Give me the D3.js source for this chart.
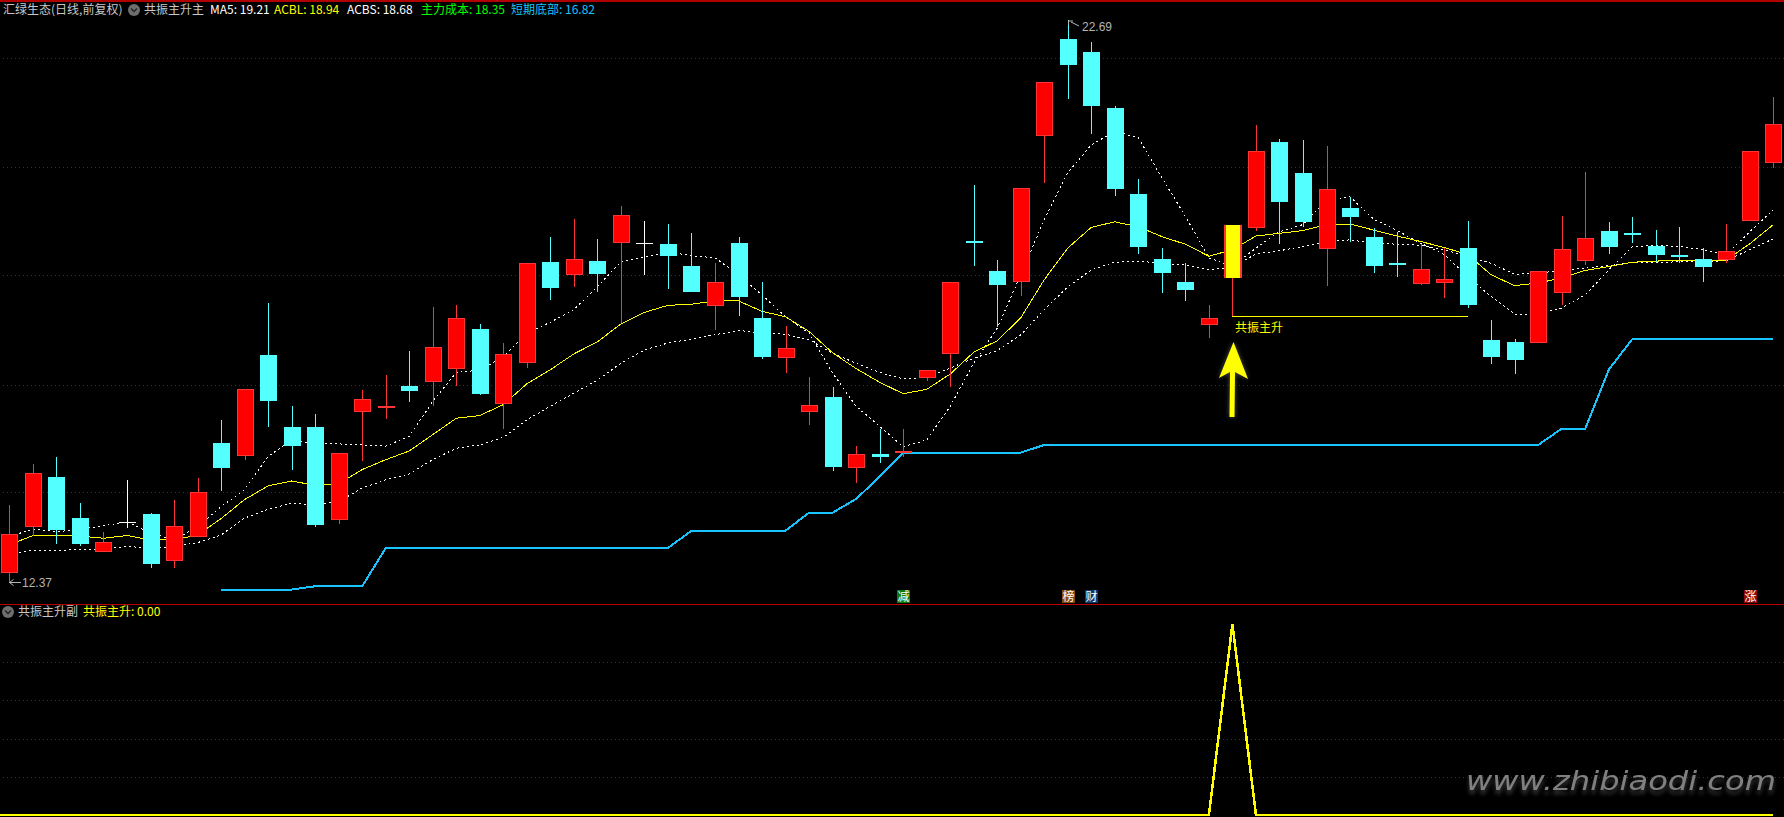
<!DOCTYPE html>
<html><head><meta charset="utf-8">
<script src="https://cdn.jsdelivr.net/npm/d3@7"></script>
<style>html,body{margin:0;padding:0;background:#000;overflow:hidden}svg{display:block}</style>
</head><body><svg id="c" width="1784" height="817"></svg>
<script>
const openP=[12.56,13.39,14.32,13.57,12.93,13.49,13.64,12.78,13.22,14.94,14.69,16.55,15.23,15.23,13.52,15.51,15.58,15.98,16.06,16.30,17.03,15.65,16.41,18.26,18.02,18.28,18.61,18.60,18.59,18.18,17.44,18.61,17.23,16.50,15.51,15.78,14.48,14.74,14.76,16.13,16.57,18.64,18.09,17.89,20.57,22.34,22.11,21.08,19.50,18.31,17.89,17.10,17.96,18.88,20.46,19.89,18.50,19.25,18.72,18.24,17.85,17.87,18.51,16.83,16.79,16.77,17.69,18.28,18.83,18.79,18.55,18.39,18.31,18.29,19.01,20.07];
const closeP=[13.27,14.38,13.35,13.09,13.12,13.49,12.72,13.41,14.04,14.48,15.93,15.71,14.88,13.44,14.75,15.75,15.62,15.89,16.70,17.23,15.84,16.57,18.23,17.77,18.31,18.04,19.11,18.60,18.37,17.71,17.89,17.62,16.52,16.68,15.64,14.50,14.74,14.68,14.79,16.28,17.89,18.60,17.84,19.61,21.56,21.87,21.12,19.60,18.53,18.06,17.74,17.23,18.94,20.29,19.36,18.99,19.60,19.08,18.18,18.20,18.13,17.95,17.47,16.52,16.46,18.09,18.50,18.70,18.53,18.77,18.39,18.35,18.17,18.46,20.29,20.79];
const highP=[13.80,14.55,14.68,13.84,13.31,14.26,13.66,13.90,14.30,15.36,15.93,17.51,15.62,15.47,14.75,15.91,16.19,16.63,17.43,17.47,17.12,16.77,18.23,18.72,19.05,18.68,19.28,19.01,18.95,18.79,18.23,18.72,17.89,17.08,16.15,15.97,14.88,15.20,15.20,16.28,17.89,19.67,18.29,19.61,21.56,22.69,22.29,21.12,19.78,18.51,18.24,17.47,18.94,20.77,20.51,20.49,20.38,19.45,18.88,18.81,18.59,18.51,19.01,17.19,16.85,18.09,19.10,19.91,18.99,19.08,18.84,18.90,18.51,18.95,20.29,21.28];
const lowP=[12.37,13.23,13.09,13.04,12.93,13.38,12.65,12.65,13.22,14.06,14.63,15.23,14.44,13.40,13.45,14.61,15.38,15.69,15.62,15.98,15.82,15.20,16.31,17.56,17.80,17.71,17.13,18.02,17.75,17.71,17.01,17.27,16.48,16.22,15.27,14.43,14.21,14.57,14.68,16.08,15.97,18.18,17.07,17.63,19.71,21.25,20.60,19.47,18.40,17.69,17.54,16.86,17.25,18.83,18.59,18.90,17.82,18.62,18.06,17.98,17.84,17.60,17.41,16.39,16.20,16.77,17.47,18.20,18.40,18.61,18.26,18.24,17.89,18.24,19.01,19.98];
const ma5=[13.22,13.36,13.31,13.35,13.42,13.49,13.29,13.16,13.40,13.77,14.08,14.69,14.99,14.92,14.92,14.90,14.88,15.06,15.70,16.23,16.27,16.52,16.95,17.15,17.38,17.80,18.26,18.35,18.44,18.37,18.33,18.02,17.65,17.25,16.95,16.22,15.61,15.24,14.87,14.99,15.61,16.40,17.04,18.02,19.03,19.89,20.40,20.65,20.53,19.80,19.09,18.33,18.17,18.51,18.81,18.94,19.39,19.45,19.04,18.83,18.60,18.39,17.99,17.62,17.30,17.30,17.41,17.65,18.11,18.53,18.56,18.54,18.48,18.39,18.81,19.21];
const acbl=[13.07,13.24,13.24,13.23,13.19,13.24,13.16,13.16,13.25,13.55,13.90,14.15,14.24,14.16,14.19,14.45,14.63,14.79,15.09,15.39,15.44,15.64,16.02,16.28,16.57,16.79,17.12,17.33,17.46,17.48,17.54,17.54,17.35,17.25,16.98,16.59,16.30,16.05,15.84,15.92,16.20,16.60,16.81,17.23,17.93,18.51,18.89,18.99,18.90,18.72,18.58,18.36,18.48,18.73,18.78,18.83,18.94,18.95,18.84,18.73,18.63,18.52,18.39,18.02,17.82,17.87,17.96,18.10,18.17,18.25,18.27,18.29,18.28,18.29,18.59,18.94];
const acbs=[12.89,12.97,12.97,12.98,12.99,13.04,13.01,13.04,13.11,13.25,13.56,13.72,13.83,13.80,13.86,14.11,14.26,14.37,14.63,14.84,14.90,15.04,15.36,15.61,15.85,16.09,16.40,16.64,16.77,16.84,16.92,17.00,16.95,16.93,16.83,16.58,16.40,16.23,16.11,16.14,16.31,16.49,16.63,16.92,17.38,17.80,18.11,18.25,18.27,18.23,18.20,18.11,18.16,18.40,18.46,18.54,18.63,18.66,18.60,18.58,18.56,18.48,18.35,18.23,18.03,18.05,18.10,18.14,18.19,18.24,18.24,18.26,18.25,18.28,18.48,18.68];
const bottomLine=[null,null,null,null,null,null,null,null,null,12.25,12.25,12.25,12.25,12.31,12.31,12.31,13.01,13.01,13.01,13.01,13.01,13.01,13.01,13.01,13.01,13.01,13.01,13.01,13.01,13.33,13.33,13.33,13.33,13.33,13.66,13.66,13.91,14.32,14.76,14.76,14.76,14.76,14.76,14.76,14.90,14.90,14.90,14.90,14.90,14.90,14.90,14.90,14.90,14.90,14.90,14.90,14.90,14.90,14.90,14.90,14.90,14.90,14.90,14.90,14.90,14.90,15.20,15.20,16.28,16.84,16.84,16.84,16.84,16.84,16.84,16.84];
const signalIndex=52, signalEndIndex=62, signalPrice=17.25, signalLabel="共振主升";
const subSignal=openP.map((d,i)=>i===signalIndex?1:0);
const priceGrid=[21.99,19.99,18.02,16.00,14.04];
const subGrid=[0.80,0.60,0.40,0.20];
const tags=[{i:38,t:"减",c:"#0b7a0b"},{i:45,t:"榜",c:"#8a4808"},{i:46,t:"财",c:"#0c3a6c"},{i:74,t:"涨",c:"#8c0808"}];
const headerMain=[["汇绿生态(日线,前复权)",3,"#c8c8c8"],["共振主升主",144,"#c8c8c8"],["MA5: 19.21",210,"#ffffff"],["ACBL: 18.94",274,"#ffff00"],["ACBS: 18.68",347,"#ffffff"],["主力成本: 18.35",421,"#00ff00"],["短期底部: 16.82",511,"#19c3ff"]];
const headerSub=[["共振主升副",18,"#c8c8c8"],["共振主升: 0.00",83,"#ffff00"]];

const svg=d3.select("#c");
const x=d3.scaleLinear().domain([0,75]).range([9.4,1773.4]);
const y=d3.scaleLinear().domain([22.69,12.37]).range([20,583]);
const ys=d3.scaleLinear().domain([0,1]).range([815,624]);
const CY="#54ffff",RD="#ff0000",RDE="#ff3434";
const font='"Noto Sans CJK SC","Noto Sans",sans-serif';
const px=v=>Math.round(v);

svg.append("rect").attr("width",1784).attr("height",817).attr("fill","#000");
const defs=svg.append("defs");
defs.append("filter").attr("id","glow").attr("x","-50%").attr("y","-20%").attr("width","200%").attr("height","140%")
  .append("feGaussianBlur").attr("stdDeviation",2.5);
const wmF=defs.append("filter").attr("id","wm").attr("x","-5%").attr("y","-30%").attr("width","110%").attr("height","190%");
wmF.append("feDropShadow").attr("dx",0).attr("dy",4).attr("stdDeviation",2).attr("flood-color","#3a3a3a");

// frame + grids
const hl=(yy,c,w,dash,x0=0)=>svg.append("line").attr("x1",x0).attr("x2",1784).attr("y1",yy).attr("y2",yy)
  .attr("stroke",c).attr("stroke-width",w).attr("stroke-dasharray",dash||null).attr("shape-rendering","crispEdges");
hl(0.5,"#b00000",2);
priceGrid.forEach(p=>hl(px(y(p))+.5,"#a80000",1,"1,3",3));
hl(604.5,"#b80000",1);
subGrid.forEach(v=>hl(px(ys(v))+.5,"#a80000",1,"1,3",3));

// lines (under candles)
const ln=d3.line().defined(d=>d!=null).x((d,i)=>x(i)).y(d=>y(d));
svg.append("path").attr("d",ln(ma5)).attr("fill","none").attr("stroke","#fff").attr("stroke-width",1).attr("stroke-dasharray","2,3").attr("shape-rendering","crispEdges");
svg.append("path").attr("d",ln(acbs)).attr("fill","none").attr("stroke","#fff").attr("stroke-width",1).attr("stroke-dasharray","2,3").attr("shape-rendering","crispEdges");
svg.append("path").attr("d",ln(acbl)).attr("fill","none").attr("stroke","#ffff00").attr("stroke-width",1).attr("shape-rendering","crispEdges");
svg.append("path").attr("d",ln(bottomLine)).attr("fill","none").attr("stroke","#19c3ff").attr("stroke-width",2).attr("shape-rendering","crispEdges");

// candles
const g=svg.append("g").attr("shape-rendering","crispEdges");
openP.forEach((o,i)=>{
  const c=closeP[i],cx=px(x(i)),up=c>o,flat=c===o;
  const col=flat?"#ffffff":up?RDE:CY;
  g.append("line").attr("x1",cx+.5).attr("x2",cx+.5).attr("y1",y(highP[i])).attr("y2",y(lowP[i])).attr("stroke",col);
  const t=px(y(Math.max(o,c))),b=px(y(Math.min(o,c)));
  if(flat){g.append("line").attr("x1",cx-8).attr("x2",cx+9).attr("y1",t+.5).attr("y2",t+.5).attr("stroke",col).attr("stroke-width",1);return;}
  if(i===signalIndex){
    g.append("rect").attr("x",cx-8).attr("y",t).attr("width",18).attr("height",b-t).attr("fill",RDE);
    g.append("rect").attr("x",cx-6).attr("y",t).attr("width",14).attr("height",b-t).attr("fill","#ffff00");
    return;
  }
  g.append("rect").attr("x",cx-8).attr("y",t).attr("width",17).attr("height",Math.max(b-t,2))
    .attr("fill",up?RD:CY);
  if(up)g.append("rect").attr("x",cx-7.5).attr("y",t+.5).attr("width",16).attr("height",Math.max(b-t-1,1))
    .attr("fill","none").attr("stroke",RDE);
});

// signal marker
svg.append("line").attr("x1",x(signalIndex)).attr("x2",x(signalEndIndex)).attr("y1",y(signalPrice)).attr("y2",y(signalPrice))
  .attr("stroke","#ffff00").attr("stroke-width",1).attr("shape-rendering","crispEdges");
svg.append("text").attr("x",x(signalIndex)+2.5).attr("y",y(signalPrice)+15).attr("font-family",font).attr("font-size",12).attr("fill","#ffff00").text(signalLabel);

// yellow arrow
const arrowPath="M1233.5 342 L1248 379 L1235 372 L1234.5 417 L1229.5 417 L1230 372 L1219 378 Z";
svg.append("path").attr("d",arrowPath).attr("fill","#555").attr("filter","url(#glow)");
svg.append("path").attr("d",arrowPath).attr("fill","#ffff00");

// extreme labels
const lab=(t,xx,yy)=>svg.append("text").attr("x",xx).attr("y",yy).attr("font-family",'"Liberation Sans",sans-serif').attr("font-size",12).attr("fill","#b4b4b4").text(t);
lab("12.37",22,y(12.37)+4);
svg.append("path").attr("d",`M${px(x(0))+.5} ${y(12.37)-.5} H21 M${px(x(0))+.5} ${y(12.37)-.5} l4 -3 M${px(x(0))+.5} ${y(12.37)-.5} l4 3`).attr("fill","none").attr("stroke","#b4b4b4");
lab("22.69",1082,y(22.69)+11);
svg.append("path").attr("d",`M${px(x(45))+.5} ${y(22.69)+5} V${y(22.69)+1} H${px(x(45))+5} M${px(x(45))+3} ${y(22.69)+2} L${px(x(45))+11} ${y(22.69)+6}`)
  .attr("fill","none").attr("stroke","#b4b4b4");

// event tags
tags.forEach(d=>{
  const cx=px(x(d.i));
  svg.append("rect").attr("x",cx-6).attr("y",590).attr("width",13).attr("height",13).attr("fill",d.c);
  svg.append("text").attr("x",cx+.5).attr("y",601).attr("text-anchor","middle").attr("font-family",font).attr("font-size",12).attr("fill","#fff").text(d.t);
});

// sub panel
const sl=d3.line().x((d,i)=>x(i)).y(d=>ys(d));
svg.append("path").attr("d",sl(subSignal)+`M0 ${ys(0)}H${x(0)}`).attr("fill","none").attr("stroke","#ffff00").attr("stroke-width",2.5).attr("shape-rendering","crispEdges");

// headers
const hdr=(arr,yy)=>arr.forEach(d=>svg.append("text").attr("x",d[1]).attr("y",yy).attr("font-family",font).attr("font-size",12).attr("fill",d[2]).text(d[0]));
hdr(headerMain,14);hdr(headerSub,616);
const icon=(cx,cy)=>{
  svg.append("circle").attr("cx",cx).attr("cy",cy).attr("r",6).attr("fill","#6e6e6e");
  svg.append("path").attr("d",`M${cx-3} ${cy-1.5} L${cx} ${cy+1.5} L${cx+3} ${cy-1.5}`).attr("fill","none").attr("stroke","#222").attr("stroke-width",1.3);
};
icon(134,10);icon(8,612);

// watermark
svg.append("text").attr("x",1466).attr("y",790).attr("font-family",'"DejaVu Sans",sans-serif').attr("font-style","italic").attr("font-size",26)
  .attr("textLength",310).attr("lengthAdjust","spacingAndGlyphs").attr("fill","#808080").attr("filter","url(#wm)").text("www.zhibiaodi.com");
</script></body></html>
